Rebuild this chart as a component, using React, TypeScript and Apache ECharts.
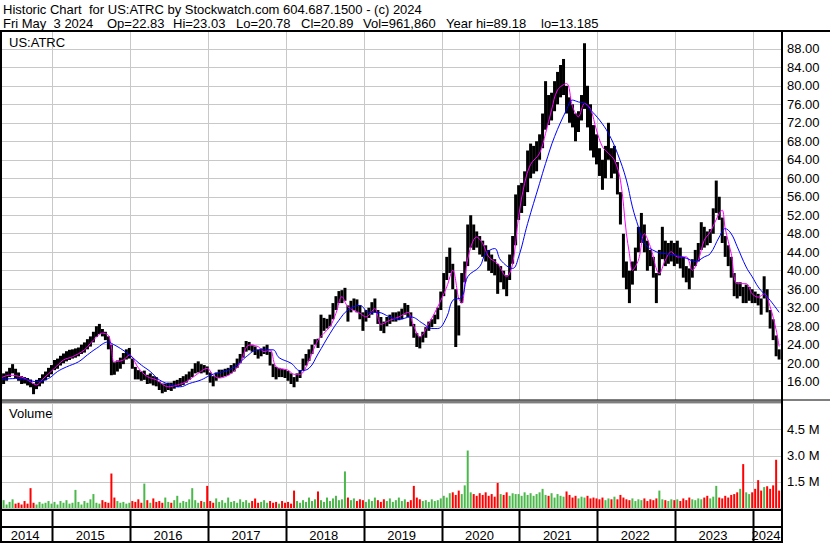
import React, { useEffect, useRef } from 'react';
import * as echarts from 'echarts';

const FONT = '"Liberation Sans", Arial, Helvetica, sans-serif';

// time axis in decimal years, one bar every two weeks
const T0 = 2014.336;
const STEP = 1 / 26;
const XMIN = 2014.354;
const XMAX = 2024.36;

const yearLabels = [2014, 2015, 2016, 2017, 2018, 2019, 2020, 2021, 2022, 2023, 2024];

const headerLine1 = 'Historic Chart  for US:ATRC by Stockwatch.com 604.687.1500 - (c) 2024';
const headerFields = ['Fri May  3 2024', 'Op=22.83', 'Hi=23.03', 'Lo=20.78', 'Cl=20.89', 'Vol=961,860', 'Year hi=89.18', 'lo=13.185'];
const headerFieldX = [3, 107, 173, 236, 301, 363, 446, 541];

const priceLow = [
  15.0, 15.5, 16.2, 17.0, 17.8, 16.8, 16.2, 15.5, 15.6, 15.2, 14.8, 13.3, 14.4, 15.0, 15.6, 16.3, 17.0,
  17.6, 18.5, 18.8, 19.5, 20.0, 20.4, 20.7, 21.0, 21.2, 21.5, 22.0, 22.3, 23.0, 23.6, 24.5, 25.7, 26.3, 25.8, 25.0, 23.0, 17.4, 17.5, 18.2, 18.8, 19.8, 20.8,
  21.0, 18.8, 16.5, 16.5, 16.2, 16.4, 15.5, 15.6, 15.2, 15.0, 14.2, 13.5, 13.8, 14.2, 14.0, 14.5, 14.8, 15.0, 15.3, 15.8, 16.4, 17.0, 17.8, 18.0, 17.8, 18.0,
  17.5, 15.8, 15.0, 16.2, 16.8, 17.0, 17.2, 17.4, 17.8, 18.2, 19.0, 20.0, 21.2, 22.5, 22.8, 22.5, 21.8, 21.0, 21.5, 22.0, 21.8, 19.5, 17.0, 16.5, 17.0, 17.0,
  16.8, 16.2, 15.5, 14.8, 16.0, 16.8, 18.5, 19.5, 20.5, 22.0, 24.0, 23.3, 25.5, 27.0, 27.5, 28.0, 29.5, 31.5, 33.0, 33.0, 33.5, 29.0, 31.0, 31.5, 31.0, 29.5,
  27.0, 29.0, 29.8, 30.5, 31.0, 28.5, 27.0, 26.5, 28.0, 28.5, 29.0, 29.0, 29.3, 29.5, 30.5, 30.0, 28.0, 25.5, 23.5, 23.2, 24.5, 25.5, 27.0, 27.8, 28.5, 29.5,
  31.5, 34.5, 38.0, 39.5, 36.0, 23.5, 26.0, 33.0, 37.5, 41.0, 45.0, 44.5, 45.0, 43.5, 43.0, 42.0, 40.0, 39.5, 39.0, 35.0, 37.5, 36.0, 34.5, 38.0, 41.5, 45.5,
  51.0, 52.5, 54.0, 57.0, 60.0, 61.0, 61.5, 64.0, 66.5, 70.5, 71.5, 72.5, 74.5, 76.0, 77.5, 78.0, 74.0, 72.0, 71.0, 68.0, 70.0, 72.5, 75.0, 71.0, 66.0, 64.5,
  63.0, 60.5, 57.5, 60.0, 64.0, 60.0, 61.0, 56.5, 50.0, 38.5, 36.0, 33.0, 37.0, 40.0, 44.0, 46.0, 44.0, 40.0, 41.0, 38.5, 33.0, 39.0, 42.5, 41.0, 41.5, 42.0,
  41.0, 41.5, 40.5, 38.5, 37.5, 36.0, 38.5, 41.0, 42.0, 44.5, 45.0, 45.5, 46.0, 48.0, 52.5, 51.0, 46.0, 43.0, 41.0, 38.5, 34.5, 34.0, 34.5, 33.0, 33.0, 33.5,
  33.0, 33.0, 32.5, 30.5, 34.0, 31.0, 27.5, 25.0, 21.5, 20.8,
];

const priceHigh = [
  17.5, 17.8, 18.2, 19.0, 19.8, 18.8, 18.0, 17.2, 17.0, 16.8, 16.5, 15.6, 16.4, 16.8, 17.6, 18.2, 19.0,
  19.6, 20.7, 21.0, 21.6, 22.1, 22.6, 22.9, 23.0, 23.2, 23.4, 24.0, 24.5, 25.2, 25.8, 26.8, 28.0, 28.5, 27.4, 26.8, 25.8, 24.0, 20.2, 20.6, 21.2, 22.2, 23.0,
  23.3, 21.0, 19.2, 18.5, 18.2, 18.4, 17.5, 17.8, 17.2, 17.0, 16.0, 15.6, 15.6, 15.8, 15.8, 16.2, 16.4, 16.8, 17.2, 17.6, 18.2, 18.8, 20.0, 20.4, 19.8, 19.6,
  19.3, 18.0, 17.2, 18.0, 18.6, 18.6, 18.8, 19.0, 19.6, 20.0, 21.0, 22.0, 23.5, 24.8, 24.6, 24.0, 23.6, 22.9, 23.2, 23.6, 24.0, 22.5, 19.8, 19.2, 19.0, 18.8,
  18.6, 18.3, 17.8, 17.0, 17.8, 18.5, 21.0, 22.0, 23.0, 24.0, 25.2, 25.3, 30.5, 29.8, 29.6, 30.5, 33.0, 34.5, 35.6, 35.8, 36.3, 32.5, 33.5, 34.0, 33.8, 32.5,
  31.0, 31.5, 32.0, 33.2, 34.0, 31.5, 30.0, 29.0, 30.0, 30.5, 31.0, 31.0, 31.2, 31.8, 33.0, 32.6, 31.0, 28.5, 26.5, 25.8, 26.8, 27.8, 29.0, 29.5, 30.5, 32.0,
  35.5, 39.5, 43.0, 45.0, 41.5, 36.0, 32.5, 39.5, 42.0, 50.0, 52.0, 50.0, 48.5, 47.5, 46.5, 45.5, 44.5, 43.5, 42.5, 41.5, 41.0, 40.0, 39.0, 43.5, 47.5, 56.5,
  58.5, 59.0, 61.5, 66.0, 67.5, 67.0, 68.0, 69.5, 74.0, 81.0, 78.0, 78.5, 81.0, 83.0, 84.5, 85.8, 80.0, 77.5, 76.0, 74.0, 74.5, 78.0, 89.2, 80.0, 76.0, 71.5,
  69.5, 66.5, 64.0, 67.0, 72.0, 66.5, 67.0, 63.5, 57.0, 48.0, 42.0, 40.0, 42.0, 45.0, 49.5, 52.5, 50.0, 46.5, 44.5, 43.0, 39.5, 44.5, 49.5, 46.5, 46.0, 46.5,
  46.0, 46.5, 45.0, 43.0, 41.0, 40.5, 42.5, 44.5, 46.0, 50.5, 49.5, 48.5, 49.0, 53.5, 59.5, 56.0, 51.5, 47.5, 45.5, 43.0, 39.5, 37.5, 37.5, 36.5, 37.0, 36.5,
  36.0, 35.5, 35.0, 34.0, 38.8, 36.0, 31.5, 29.5, 26.0, 23.0,
];

// volume in millions of shares
const volume = [
  0.3, 0.45, 0.2, 0.35, 0.5, 0.25, 0.3, 0.2, 0.4, 0.25, 1.14, 0.3, 0.2, 0.35, 0.25, 0.3, 0.4,
  0.25, 0.35, 0.2, 0.4, 0.3, 0.45, 0.25, 0.3, 1.04, 0.35, 0.2, 0.4, 0.3, 0.5, 0.8, 0.3, 0.25, 0.45, 0.35, 0.3, 1.98, 0.6, 0.4, 0.3, 0.35, 0.25,
  0.3, 0.4, 0.35, 0.5, 0.3, 1.4, 0.45, 0.3, 0.55, 0.35, 0.4, 0.3, 0.6, 0.35, 0.3, 0.45, 0.7, 0.3, 0.4, 0.35, 0.5, 1.14, 0.45, 0.3, 0.4, 0.35,
  1.27, 0.4, 0.3, 0.55, 0.35, 0.45, 0.3, 0.6, 0.35, 0.4, 0.3, 0.5, 0.35, 0.45, 0.3, 0.4, 0.55, 0.3, 0.35, 0.45, 0.3, 0.4, 0.3, 0.35, 0.25, 0.4,
  0.3, 0.35, 0.25, 1.0, 0.4, 0.3, 0.45, 0.35, 0.6, 0.4, 0.5, 0.95, 0.45, 0.35, 0.6, 0.4, 0.55, 0.7, 0.45, 0.5, 2.1, 0.6, 0.45, 0.55, 0.4, 0.5,
  0.45, 0.35, 0.5, 0.4, 0.6, 0.45, 0.35, 0.5, 0.4, 0.55, 0.35, 0.45, 0.6, 0.4, 0.5, 0.35, 0.45, 1.27, 0.6, 0.5, 0.4, 0.45, 0.35, 0.5, 0.4, 0.45,
  0.55, 0.7, 0.6, 0.85, 0.9, 0.75, 1.0, 0.8, 1.3, 3.3, 0.9, 0.8, 0.7, 0.85, 0.75, 0.9, 0.7, 0.8, 0.65, 1.44, 0.8, 0.75, 0.9, 0.7, 0.85, 0.8,
  0.8, 0.7, 0.9, 0.75, 0.85, 0.7, 0.8, 0.9, 1.1, 0.75, 0.7, 0.85, 0.6, 0.8, 0.7, 0.65, 0.95, 0.75, 0.6, 0.7, 0.55, 0.65, 0.6, 0.7, 0.55, 0.6,
  0.55, 0.5, 0.6, 0.45, 0.55, 0.5, 0.65, 0.5, 0.75, 0.6, 0.5, 0.45, 0.55, 0.4, 0.5, 0.45, 0.55, 0.4, 0.5, 0.45, 0.55, 1.0, 0.5, 0.45, 0.4, 0.5,
  0.45, 0.5, 0.4, 0.55, 0.45, 0.6, 0.5, 0.45, 0.55, 0.5, 0.6, 0.7, 0.55, 0.65, 1.27, 0.6, 0.55, 0.7, 0.6, 0.75, 0.8, 0.9, 1.1, 2.52, 0.9, 0.8,
  0.9, 1.1, 1.6, 1.0, 1.2, 1.25, 1.1, 1.3, 2.77, 1.0,
];

// [bar index, value] read along the magenta (short) moving average
const fastMaPoints = [
  [0, 16.8], [3, 17.4], [7, 17.0], [10, 16.0], [12, 15.3], [14, 16.5], [18, 18.9], [21, 20.7], [24, 21.4], [28, 22.9],
  [31, 25.0], [34, 26.5], [36, 26.0], [37, 23.5], [38, 20.3], [41, 20.7], [43, 21.8], [46, 19.0], [49, 17.1], [52, 16.4],
  [56, 14.9], [59, 15.3], [62, 16.0], [66, 17.8], [69, 18.9], [71, 17.4], [73, 16.8], [77, 17.8], [80, 20.0], [83, 23.9],
  [86, 23.6], [88, 22.5], [90, 22.9], [92, 19.2], [96, 18.5], [98, 17.6], [100, 17.6], [103, 20.6], [106, 25.0], [110, 27.9],
  [112, 30.8], [114, 34.4], [116, 32.2], [120, 30.8], [122, 30.0], [125, 31.8], [127, 28.4], [130, 29.3], [133, 30.0], [136, 31.0],
  [138, 28.0], [140, 25.7], [143, 28.6], [146, 32.2], [149, 36.5], [151, 40.1], [153, 34.0], [154, 33.0], [156, 42.5], [159, 47.3],
  [161, 45.9], [163, 43.0], [166, 41.5], [169, 38.7], [171, 41.5], [173, 51.7], [175, 58.9], [177, 63.0], [180, 65.4], [182, 69.7],
  [184, 74.8], [186, 79.1], [189, 80.5], [191, 75.5], [193, 73.3], [195, 76.2], [197, 75.0], [199, 70.4], [201, 66.8], [203, 65.4],
  [205, 63.9], [207, 59.6], [209, 48.0], [210, 43.7], [211, 40.1], [213, 42.3], [215, 48.0], [217, 45.2], [220, 39.4], [222, 42.3],
  [224, 44.1], [226, 43.0], [229, 43.0], [231, 40.1], [233, 42.3], [235, 46.6], [237, 48.4], [240, 52.4], [241, 53.1], [242, 49.1],
  [244, 43.7], [246, 37.2], [249, 37.2], [251, 35.0], [253, 34.3], [255, 35.0], [257, 32.2], [259, 27.2], [260, 23.6],
];

// [bar index, value] read along the blue (long) moving average
const slowMaPoints = [
  [0, 16.5], [6, 16.7], [9, 16.4], [12, 16.0], [16, 16.7], [19, 18.2], [22, 19.2], [26, 20.3], [29, 21.8], [32, 23.2],
  [36, 24.6], [37, 24.3], [40, 23.2], [43, 21.8], [47, 19.6], [50, 18.2], [53, 16.4], [57, 15.3], [60, 14.9], [63, 15.6],
  [67, 16.4], [70, 17.4], [72, 17.8], [76, 18.5], [79, 19.6], [82, 21.4], [86, 22.9], [89, 22.9], [91, 22.9], [93, 21.2],
  [97, 20.0], [100, 18.4], [103, 18.9], [106, 22.0], [110, 26.4], [113, 29.3], [116, 31.5], [120, 32.5], [123, 31.0], [126, 31.0],
  [130, 30.0], [133, 29.5], [137, 30.0], [141, 28.6], [144, 27.5], [146, 27.5], [149, 30.0], [151, 33.6], [154, 34.3], [156, 38.7],
  [160, 40.9], [162, 43.7], [165, 44.8], [167, 42.3], [171, 40.5], [173, 43.0], [176, 50.2], [180, 58.9], [182, 63.2], [185, 69.0],
  [189, 74.8], [191, 76.9], [193, 76.5], [195, 76.2], [197, 74.8], [200, 72.6], [203, 69.7], [206, 65.4], [209, 59.6], [211, 53.8],
  [213, 49.5], [215, 45.9], [219, 44.1], [222, 43.7], [225, 43.4], [229, 42.7], [232, 42.0], [235, 43.0], [237, 43.7], [240, 47.3],
  [242, 49.1], [244, 48.0], [246, 45.2], [249, 40.8], [251, 38.7], [253, 36.5], [255, 35.0], [257, 33.6], [260, 31.0],
];

export default function App() {
  const ref = useRef<HTMLDivElement>(null);

  useEffect(() => {
    const chart = echarts.init(ref.current!, null, { renderer: 'svg' });
    const tOf = (i: number) => T0 + i * STEP;

    const priceData = priceLow.map((lo, i) => [tOf(i), lo, priceHigh[i]]);
    const volData = volume.map((v, i) => {
      const mid = (priceLow[i] + priceHigh[i]) / 2;
      const prev = i > 0 ? (priceLow[i - 1] + priceHigh[i - 1]) / 2 : mid;
      return [tOf(i), v, mid >= prev ? 1 : 0];
    });
    const fastData = fastMaPoints.map(([i, v]) => [tOf(i), v]);
    const slowData = slowMaPoints.map(([i, v]) => [tOf(i), v]);

    const gridColor = '#c8c8c8';

    const option: any = {
      animation: false,
      backgroundColor: '#ffffff',
      grid: [
        { left: 2, top: 30.3, width: 779, height: 369.9, show: false },
        { left: 2, top: 403.5, width: 779, height: 104.5, show: false },
      ],
      xAxis: [
        { type: 'value', gridIndex: 0, min: XMIN, max: XMAX, show: false },
        { type: 'value', gridIndex: 1, min: XMIN, max: XMAX, show: false },
      ],
      yAxis: [
        {
          type: 'value', gridIndex: 0, position: 'right', min: 12, max: 92, interval: 4,
          axisLine: { show: false }, axisTick: { show: false },
          splitLine: { show: true, lineStyle: { color: gridColor, width: 1 } },
          axisLabel: {
            margin: 6, color: '#000', fontFamily: FONT, fontSize: 13, padding: [0, 0, 4, 0],
            formatter: (v: number) => (v >= 16 && v <= 88 ? v.toFixed(2) : ''),
          },
        },
        {
          type: 'value', gridIndex: 1, position: 'right', min: 0, max: 6, interval: 1.5,
          axisLine: { show: false }, axisTick: { show: false },
          splitLine: { show: true, lineStyle: { color: gridColor, width: 1 } },
          axisLabel: {
            margin: 6, color: '#000', fontFamily: FONT, fontSize: 13,
            formatter: (v: number) => (v > 0 && v < 6 ? v.toFixed(1) + ' M' : ''),
          },
        },
      ],
      series: [
        {
          type: 'custom', xAxisIndex: 0, yAxisIndex: 0, z: 3,
          data: priceData,
          renderItem: (params: any, api: any) => {
            const t = api.value(0);
            const top = api.coord([t, api.value(2)]);
            const bot = api.coord([t, api.value(1)]);
            const shape = echarts.graphic.clipRectByRect(
              { x: top[0] - 1.5, y: top[1], width: 3, height: Math.max(1, bot[1] - top[1]) },
              { x: params.coordSys.x, y: params.coordSys.y, width: params.coordSys.width, height: params.coordSys.height },
            );
            return shape ? { type: 'rect', shape, style: { fill: '#000' } } : null;
          },
        },
        {
          type: 'line', xAxisIndex: 0, yAxisIndex: 0, z: 4, data: fastData, smooth: 0.35,
          showSymbol: false, lineStyle: { color: '#ff00ff', width: 1 },
        },
        {
          type: 'line', xAxisIndex: 0, yAxisIndex: 0, z: 5, data: slowData, smooth: 0.4,
          showSymbol: false, lineStyle: { color: '#0000ff', width: 1 },
        },
        {
          type: 'custom', xAxisIndex: 1, yAxisIndex: 1, z: 3,
          data: volData,
          renderItem: (params: any, api: any) => {
            const t = api.value(0);
            const top = api.coord([t, api.value(1)]);
            const bot = api.coord([t, 0]);
            const shape = echarts.graphic.clipRectByRect(
              { x: top[0] - 1, y: top[1], width: 2, height: Math.max(1, bot[1] - top[1]) },
              { x: params.coordSys.x, y: params.coordSys.y, width: params.coordSys.width, height: params.coordSys.height + 1 },
            );
            return shape
              ? { type: 'rect', shape, style: { fill: api.value(2) ? '#4cb84c' : '#ff0000' } }
              : null;
          },
        },
      ],
    };
    chart.setOption(option);

    const px = (t: number) => chart.convertToPixel({ xAxisIndex: 0 }, t) as number;
    const bounds = yearLabels.slice(1).map((y) => px(y));
    const graphics: any[] = [];
    const black = '#000';

    // vertical grid lines at year boundaries
    bounds.forEach((b) => {
      const x = Math.round(b) + 0.5;
      graphics.push({ type: 'line', z: 1, silent: true, shape: { x1: x, y1: 32, x2: x, y2: 400 }, style: { stroke: gridColor, lineWidth: 1 } });
      graphics.push({ type: 'line', z: 1, silent: true, shape: { x1: x, y1: 403, x2: x, y2: 509 }, style: { stroke: gridColor, lineWidth: 1 } });
      graphics.push({ type: 'rect', z: 100, silent: true, shape: { x: Math.round(b) - 0.5, y: 510, width: 2, height: 31 }, style: { fill: black } });
    });

    // year labels centred in each year slot
    const edges = [0, ...bounds, 781];
    yearLabels.forEach((y, k) => {
      const cx = (edges[k] + edges[k + 1]) / 2 - 1;
      graphics.push({
        type: 'text', z: 100, silent: true,
        style: { text: String(y), x: cx, y: 535, fill: black, font: `13px ${FONT}`, textAlign: 'center', textVerticalAlign: 'middle', align: 'center', verticalAlign: 'middle' },
      });
    });

    // frame lines
    const rects = [
      { x: 0, y: 30, width: 830, height: 2 },
      { x: 0, y: 30, width: 2, height: 512 },
      { x: 781, y: 30, width: 2, height: 513 },
      { x: 0, y: 399.5, width: 830, height: 1 },
      { x: 0, y: 401.5, width: 782, height: 1 },
      { x: 0, y: 509, width: 782, height: 2 },
      { x: 0, y: 526, width: 782, height: 2 },
      { x: 0, y: 541, width: 782, height: 2 },
    ];
    rects.forEach((r) => graphics.push({ type: 'rect', z: 100, silent: true, shape: r, style: { fill: black } }));

    const txt = (text: string, x: number, y: number) => ({
      type: 'text', z: 100, silent: true,
      style: { text, x, y, fill: black, font: `13px ${FONT}`, textAlign: 'left', textVerticalAlign: 'middle', align: 'left', verticalAlign: 'middle' },
    });
    graphics.push(txt(headerLine1, 3, 9));
    headerFields.forEach((f, k) => graphics.push(txt(f, headerFieldX[k], 23)));
    graphics.push(txt('US:ATRC', 9, 42));
    graphics.push(txt('Volume', 9, 413));

    chart.setOption({ graphic: graphics });

    return () => chart.dispose();
  }, []);

  return <div ref={ref} style={{ position: 'absolute', left: 0, top: 0, width: 830, height: 543 }} />;
}
